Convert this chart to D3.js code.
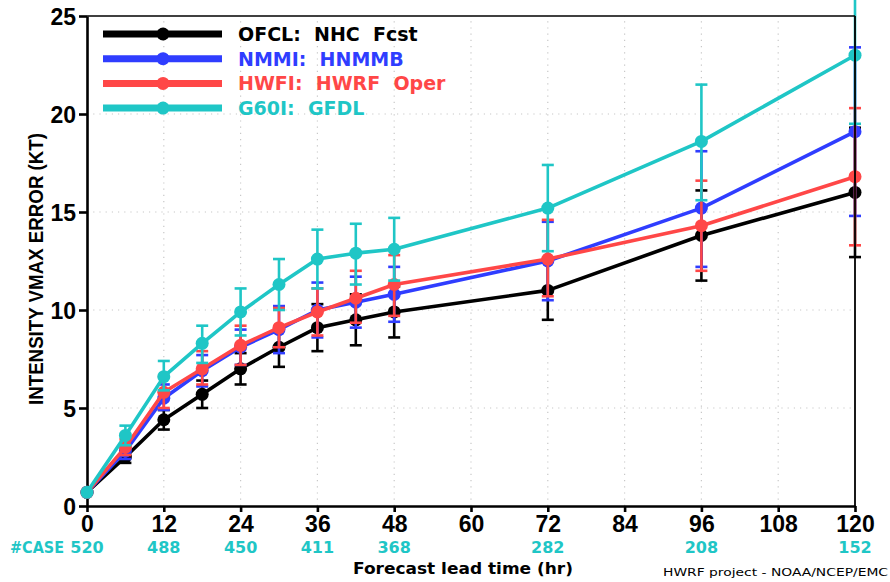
<!DOCTYPE html>
<html>
<head>
<meta charset="utf-8">
<script src="https://cdn.jsdelivr.net/npm/d3@7"></script>
<style>
  body { margin: 0; background: #fff; }
  svg { display: block; }
  text { font-family: "DejaVu Sans", sans-serif; font-weight: bold; }
</style>
</head>
<body>
<svg id="chart" width="890" height="582"></svg>
<script>
//---- Data -----------------------------------------------------------------------------------
var hours = [0, 6, 12, 18, 24, 30, 36, 42, 48, 72, 96, 120];

var ofclMean = [0.7, 2.5, 4.4, 5.7, 7.0, 8.1, 9.1, 9.5, 9.9, 11.0, 13.8, 16.0];
var ofclLo   = [0.6, 2.2, 3.9, 5.0, 6.2, 7.1, 7.9, 8.2, 8.6, 9.5, 11.5, 12.7];
var ofclHi   = [0.8, 2.8, 4.9, 6.4, 7.8, 9.1, 10.3, 10.8, 11.2, 12.5, 16.1, 19.3];

var nmmiMean = [0.7, 2.8, 5.5, 6.9, 8.1, 9.0, 10.0, 10.4, 10.8, 12.5, 15.2, 19.1];
var nmmiLo   = [0.6, 2.4, 4.9, 6.1, 7.2, 7.8, 8.6, 9.1, 9.4, 10.5, 12.2, 14.8];
var nmmiHi   = [0.8, 3.2, 6.2, 7.7, 9.0, 10.2, 11.4, 11.7, 12.2, 14.5, 18.1, 23.4];

var hwfiMean = [0.7, 3.0, 5.8, 7.0, 8.2, 9.1, 9.9, 10.6, 11.3, 12.6, 14.3, 16.8];
var hwfiLo   = [0.6, 2.6, 5.0, 6.2, 7.2, 8.1, 8.7, 9.35, 9.7, 10.7, 12.0, 13.3];
var hwfiHi   = [0.8, 3.4, 6.6, 7.9, 9.2, 10.1, 11.1, 12.0, 12.8, 14.6, 16.6, 20.3];

var g60iMean = [0.7, 3.6, 6.6, 8.3, 9.9, 11.3, 12.6, 12.9, 13.1, 15.2, 18.6, 23.0];
var g60iLo   = [0.6, 3.1, 5.9, 7.3, 8.7, 10.0, 11.1, 11.3, 11.5, 13.0, 15.6, 19.5];
var g60iHi   = [0.8, 4.1, 7.4, 9.2, 11.1, 12.6, 14.1, 14.4, 14.7, 17.4, 21.5, 26.5];

var seriesLabels = ["OFCL:  NHC  Fcst", "NMMI:  HNMMB", "HWFI:  HWRF  Oper", "G60I:  GFDL"];
var seriesColors = ["#000000", "#2f3dff", "#ff4747", "#1fc6c6"];

var caseHours = [0, 12, 24, 36, 48, 72, 96, 120];
var caseCounts = [520, 488, 450, 411, 368, 282, 208, 152];

var xTicks = d3.range(0, 121, 12);
var yTicks = [0, 5, 10, 15, 20, 25];

var series = [
  { mean: ofclMean, lo: ofclLo, hi: ofclHi },
  { mean: nmmiMean, lo: nmmiLo, hi: nmmiHi },
  { mean: hwfiMean, lo: hwfiLo, hi: hwfiHi },
  { mean: g60iMean, lo: g60iLo, hi: g60iHi },
].map(function (s, i) {
  return {
    label: seriesLabels[i],
    color: seriesColors[i],
    points: hours.map(function (h, j) { return { h: h, v: s.mean[j], lo: s.lo[j], hi: s.hi[j] }; })
  };
});

//---- Scales ---------------------------------------------------------------------------------
var svg = d3.select("#chart");
var x = d3.scaleLinear().domain([0, 120]).range([87, 855]);
var y = d3.scaleLinear().domain([0, 25]).range([506, 16]);

// grid (dotted)
var grid = svg.append("g").attr("stroke", "#c8c8c8").attr("stroke-width", 1.2).attr("stroke-dasharray", "1.2,5");
grid.selectAll(".gx").data(xTicks.filter(function (t) { return t > 0 && t < 120; }))
  .enter().append("line")
  .attr("x1", function (d) { return x(d); }).attr("x2", function (d) { return x(d); })
  .attr("y1", y(0)).attr("y2", y(25));
grid.selectAll(".gy").data(yTicks.filter(function (t) { return t > 0 && t < 25; }))
  .enter().append("line")
  .attr("x1", x(0)).attr("x2", x(120))
  .attr("y1", function (d) { return y(d); }).attr("y2", function (d) { return y(d); });

//---- Axes -----------------------------------------------------------------------------------
var yAxis = svg.append("g")
  .attr("transform", "translate(" + x(0) + ",0)")
  .call(d3.axisLeft(y).tickValues(yTicks).tickSize(8).tickSizeOuter(0).tickPadding(3));
var xAxis = svg.append("g")
  .attr("transform", "translate(0," + y(0) + ")")
  .call(d3.axisBottom(x).tickValues(xTicks).tickSize(6).tickSizeOuter(0).tickPadding(4));

[yAxis, xAxis].forEach(function (a) {
  a.select(".domain").attr("stroke", "#000").attr("stroke-width", 2.6);
  a.selectAll(".tick line").attr("stroke", "#000").attr("stroke-width", 2.6);
  a.selectAll(".tick text").attr("fill", "#000").style("font-size", "23px")
    .style("font-family", "'Liberation Sans', sans-serif").style("font-weight", "bold");
});
yAxis.selectAll(".tick text").attr("dy", "0.36em");

//---- Series ---------------------------------------------------------------------------------
var line = d3.line().x(function (d) { return x(d.h); }).y(function (d) { return y(d.v); });
var capW = 6;

series.forEach(function (s) {
  var g = svg.append("g");
  g.append("path")
    .datum(s.points)
    .attr("d", line)
    .attr("fill", "none")
    .attr("stroke", s.color)
    .attr("stroke-width", 3.6)
    .attr("stroke-linejoin", "round");

  var bars = g.selectAll(".bar").data(s.points.filter(function (d) { return d.h > 0; }))
    .enter().append("g").attr("stroke", s.color).attr("stroke-width", 2.6);
  bars.append("line")
    .attr("x1", function (d) { return x(d.h); }).attr("x2", function (d) { return x(d.h); })
    .attr("y1", function (d) { return y(d.lo); }).attr("y2", function (d) { return y(d.hi); });
  bars.append("line")
    .attr("x1", function (d) { return x(d.h) - capW; }).attr("x2", function (d) { return x(d.h) + capW; })
    .attr("y1", function (d) { return y(d.lo); }).attr("y2", function (d) { return y(d.lo); });
  bars.append("line")
    .attr("x1", function (d) { return x(d.h) - capW; }).attr("x2", function (d) { return x(d.h) + capW; })
    .attr("y1", function (d) { return y(d.hi); }).attr("y2", function (d) { return y(d.hi); });

  g.selectAll("circle").data(s.points).enter().append("circle")
    .attr("cx", function (d) { return x(d.h); })
    .attr("cy", function (d) { return y(d.v); })
    .attr("r", 6.5)
    .attr("fill", s.color);
});

// frame top / right, drawn above the series
svg.append("line").attr("x1", x(0)).attr("x2", x(120)).attr("y1", y(25)).attr("y2", y(25))
  .attr("stroke", "#000").attr("stroke-width", 1.6);
svg.append("line").attr("x1", x(120)).attr("x2", x(120)).attr("y1", y(25)).attr("y2", y(0))
  .attr("stroke", "#000").attr("stroke-width", 1.8);

//---- Legend ---------------------------------------------------------------------------------
var legend = svg.append("g");
series.forEach(function (s, i) {
  var ly = 34 + i * 24.7;
  legend.append("line").attr("x1", 103).attr("x2", 222).attr("y1", ly).attr("y2", ly)
    .attr("stroke", s.color).attr("stroke-width", 7);
  legend.append("circle").attr("cx", 163).attr("cy", ly).attr("r", 6.5).attr("fill", s.color);
  legend.append("text").attr("x", 238).attr("y", ly + 7)
    .attr("fill", s.color).style("font-size", "19px")
    .style("white-space", "pre")
    .text(s.label);
});

//---- Labels ---------------------------------------------------------------------------------
svg.append("text")
  .attr("transform", "translate(43,269) rotate(-90)")
  .attr("text-anchor", "middle")
  .attr("textLength", 272).attr("lengthAdjust", "spacingAndGlyphs")
  .style("font-family", "'Liberation Sans', sans-serif")
  .style("font-size", "21px")
  .text("INTENSITY VMAX ERROR (KT)");

svg.append("text")
  .attr("x", 463).attr("y", 574)
  .attr("text-anchor", "middle")
  .attr("textLength", 220).attr("lengthAdjust", "spacingAndGlyphs")
  .style("font-size", "16px")
  .text("Forecast lead time (hr)");

var caseColor = "#1fc6c6";
svg.append("g").selectAll("text").data(caseCounts).enter().append("text")
  .attr("x", function (d, i) { return x(caseHours[i]); })
  .attr("y", 553)
  .attr("text-anchor", "middle")
  .attr("fill", caseColor)
  .style("font-size", "16px")
  .text(function (d) { return d; });
svg.append("text")
  .attr("x", 64).attr("y", 553)
  .attr("text-anchor", "end")
  .attr("fill", caseColor)
  .attr("textLength", 54).attr("lengthAdjust", "spacingAndGlyphs")
  .style("font-size", "16px")
  .text("#CASE");

svg.append("text")
  .attr("x", 888).attr("y", 576)
  .attr("text-anchor", "end")
  .attr("textLength", 225).attr("lengthAdjust", "spacingAndGlyphs")
  .style("font-size", "11px").style("font-weight", "normal")
  .text("HWRF project - NOAA/NCEP/EMC");
</script>
</body>
</html>
